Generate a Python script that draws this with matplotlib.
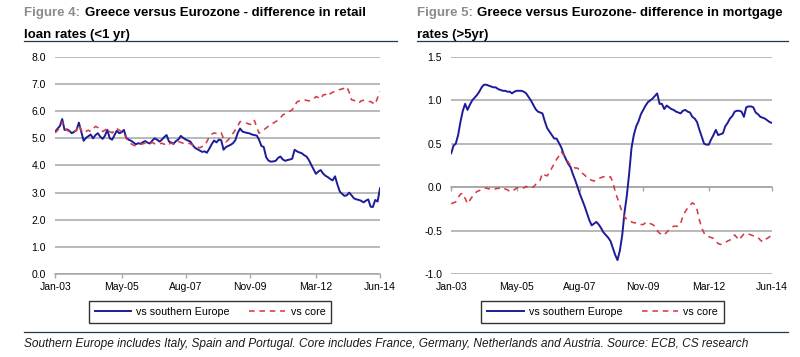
import pandas as pd
import matplotlib.pyplot as plt
import numpy as np

plt.rcParams['font.family'] = ['Liberation Sans', 'DejaVu Sans']

# monthly data, Jan-03 .. Jun-14
months = pd.date_range('2003-01-01', periods=138, freq='MS')

retail_south = [
    5.25, 5.36, 5.45, 5.71, 5.31, 5.33, 5.28, 5.19, 5.24, 5.30,
    5.58, 5.25, 4.91, 5.02, 5.08, 5.14, 5.00, 5.12, 5.19, 5.06,
    4.98, 5.10, 5.31, 5.00, 4.95, 5.12, 5.28, 5.19, 5.22, 5.31,
    5.02, 4.95, 4.91, 4.85, 4.78, 4.82, 4.80, 4.86, 4.90, 4.84,
    4.81, 4.92, 5.00, 4.95, 4.88, 4.95, 5.05, 5.12, 4.88, 4.84,
    4.81, 4.90, 4.96, 5.09, 5.02, 4.96, 4.92, 4.88, 4.75, 4.65,
    4.60, 4.55, 4.50, 4.52, 4.47, 4.62, 4.78, 4.92, 4.85, 4.95,
    4.93, 4.58, 4.68, 4.72, 4.76, 4.82, 4.93, 5.20, 5.36, 5.25,
    5.22, 5.20, 5.18, 5.14, 5.12, 5.10, 4.95, 4.72, 4.68, 4.30,
    4.18, 4.14, 4.15, 4.17, 4.28, 4.33, 4.22, 4.17, 4.20, 4.22,
    4.25, 4.58, 4.52, 4.48, 4.45, 4.38, 4.33, 4.20, 4.02, 3.85,
    3.69, 3.78, 3.83, 3.70, 3.62, 3.57, 3.50, 3.45, 3.60, 3.30,
    3.04, 2.95, 2.88, 2.90, 3.00, 2.90, 2.79, 2.75, 2.73, 2.70,
    2.64, 2.70, 2.75, 2.48, 2.47, 2.73, 2.67, 3.16]

retail_core = [
    5.20, 5.30, 5.40, 5.60, 5.35, 5.30, 5.25, 5.20, 5.25, 5.30,
    5.50, 5.30, 5.20, 5.25, 5.30, 5.25, 5.35, 5.44, 5.40, 5.30,
    5.25, 5.30, 5.38, 5.25, 5.20, 5.30, 5.37, 5.30, 5.25, 5.20,
    5.00, 4.90, 4.80, 4.75, 4.72, 4.75, 4.78, 4.80, 4.82, 4.80,
    4.81, 4.85, 4.80, 4.78, 4.80, 4.82, 4.78, 4.85, 4.80, 4.82,
    4.78, 4.85, 4.88, 4.85, 4.82, 4.80, 4.82, 4.80, 4.75, 4.70,
    4.68, 4.65, 4.70, 4.72, 4.88, 5.05, 5.15, 5.20, 5.18, 5.15,
    5.20, 5.00, 4.87, 4.95, 5.05, 5.18, 5.31, 5.45, 5.62, 5.60,
    5.58, 5.55, 5.52, 5.50, 5.66, 5.40, 5.19, 5.25, 5.31, 5.38,
    5.45, 5.50, 5.56, 5.62, 5.66, 5.75, 5.87, 5.90, 5.95, 6.00,
    6.05, 6.20, 6.34, 6.38, 6.40, 6.42, 6.40, 6.38, 6.40, 6.45,
    6.54, 6.50, 6.45, 6.60, 6.62, 6.55, 6.65, 6.70, 6.72, 6.76,
    6.80, 6.82, 6.85, 6.90, 6.70, 6.42, 6.40, 6.36, 6.30, 6.38,
    6.40, 6.38, 6.35, 6.36, 6.30, 6.25, 6.50, 6.73]

mortgage_south = [
    0.39, 0.48, 0.50, 0.60, 0.75, 0.88, 0.96, 0.89, 0.95, 1.00,
    1.03, 1.06, 1.10, 1.15, 1.18, 1.18, 1.17, 1.16, 1.15, 1.15,
    1.13, 1.12, 1.11, 1.11, 1.10, 1.10, 1.08, 1.10, 1.11, 1.11,
    1.11, 1.10, 1.08, 1.04, 1.00, 0.95, 0.90, 0.87, 0.86, 0.85,
    0.76, 0.68, 0.64, 0.60, 0.56, 0.56, 0.51, 0.46, 0.38, 0.32,
    0.27, 0.23, 0.15, 0.08, 0.00, -0.08, -0.15, -0.22, -0.30, -0.38,
    -0.44, -0.42, -0.40, -0.43, -0.47, -0.52, -0.55, -0.58, -0.62, -0.70,
    -0.78, -0.84, -0.73, -0.55, -0.30, -0.10, 0.15, 0.45, 0.60, 0.70,
    0.76, 0.84, 0.89, 0.94, 0.98, 1.00, 1.02, 1.05, 1.08, 0.96,
    0.96, 0.90, 0.94, 0.92, 0.90, 0.89, 0.87, 0.86, 0.85, 0.88,
    0.89, 0.87, 0.86, 0.81, 0.79, 0.75, 0.66, 0.58, 0.50, 0.49,
    0.49, 0.55, 0.60, 0.66, 0.60, 0.61, 0.62, 0.70, 0.74, 0.79,
    0.82, 0.87, 0.88, 0.88, 0.87, 0.81, 0.92, 0.93, 0.93, 0.92,
    0.86, 0.84, 0.81, 0.80, 0.79, 0.77, 0.75, 0.74]

mortgage_core = [
    -0.19, -0.18, -0.17, -0.12, -0.08, -0.07, -0.13, -0.19, -0.15, -0.11,
    -0.08, -0.05, -0.04, -0.02, -0.01, -0.01, -0.02, -0.01, -0.01, -0.02,
    -0.01, -0.02, -0.03, -0.02, -0.03, -0.05, -0.05, -0.03, -0.01, 0.00,
    0.00, -0.01, 0.01, -0.01, 0.00, 0.00, 0.03, 0.06, 0.08, 0.16,
    0.14, 0.13, 0.17, 0.22, 0.27, 0.32, 0.36, 0.41, 0.37, 0.33,
    0.29, 0.25, 0.24, 0.22, 0.22, 0.19, 0.16, 0.14, 0.11, 0.09,
    0.08, 0.07, 0.09, 0.10, 0.11, 0.12, 0.12, 0.11, 0.12, 0.06,
    -0.05, -0.13, -0.21, -0.29, -0.34, -0.37, -0.38, -0.40, -0.41, -0.41,
    -0.42, -0.43, -0.43, -0.41, -0.40, -0.42, -0.43, -0.45, -0.50, -0.53,
    -0.55, -0.55, -0.52, -0.49, -0.47, -0.45, -0.45, -0.45, -0.42, -0.33,
    -0.28, -0.24, -0.21, -0.18, -0.20, -0.26, -0.38, -0.47, -0.53, -0.56,
    -0.57, -0.58, -0.59, -0.62, -0.65, -0.66, -0.65, -0.64, -0.62, -0.61,
    -0.58, -0.55, -0.58, -0.61, -0.57, -0.54, -0.53, -0.54, -0.55, -0.56,
    -0.57, -0.58, -0.61, -0.63, -0.60, -0.59, -0.57, -0.56]

tick_dates = pd.to_datetime(['2003-01-01', '2005-05-01', '2007-08-01',
                             '2009-11-01', '2012-03-01', '2014-06-01'])
tick_labels = ['Jan-03', 'May-05', 'Aug-07', 'Nov-09', 'Mar-12', 'Jun-14']

blue = '#1c1c9a'
red = '#d63a44'
grid_c = '#a6a6a6'

fig = plt.figure(figsize=(8, 3.57), dpi=100, facecolor='w')


def draw_panel(ax, south, core, ylim, yticks, axis_at, leg_x):
    for yv in yticks:
        ax.axhline(yv, color=grid_c, lw=1.1, zorder=1)
    ax.plot(months, south, color=blue, lw=1.4, zorder=3, label='vs southern Europe')
    ax.plot(months, core, color=red, lw=1.15, ls=(0, (3.5, 3)), zorder=3, label='vs core')
    ax.set_xlim(months[0], months[-1])
    ax.set_ylim(*ylim)
    ax.set_yticks(yticks)
    ax.set_yticklabels(['%.1f' % v for v in yticks], fontsize=7.5)
    for s in ['top', 'right', 'left']:
        ax.spines[s].set_visible(False)
    # horizontal axis crosses at zero, labels stay at the bottom
    ax.spines['bottom'].set_position(('data', axis_at))
    ax.spines['bottom'].set_color(grid_c)
    ax.spines['bottom'].set_linewidth(1.1)
    ax.set_xticks(tick_dates)
    ax.tick_params(axis='x', colors=grid_c, length=3, width=1, labelbottom=False)
    ax.tick_params(axis='y', length=0, pad=6.5)
    sec = ax.secondary_xaxis('bottom')
    sec.set_xticks(tick_dates)
    sec.set_xticklabels(tick_labels, fontsize=7.5)
    sec.tick_params(length=0, pad=6)
    sec.spines['bottom'].set_visible(False)
    leg = ax.legend(loc='upper center', bbox_to_anchor=(leg_x, -0.125), ncol=2,
                    fontsize=7.7, frameon=True, fancybox=False, handlelength=3.4,
                    columnspacing=1.8, borderpad=0.55, handletextpad=0.5,
                    borderaxespad=0)
    leg.get_frame().set_edgecolor('black')
    leg.get_frame().set_linewidth(1.0)


ax1 = fig.add_axes([0.069, 0.2325, 0.406, 0.608])
draw_panel(ax1, retail_south, retail_core, (0, 8), np.arange(0, 8.5, 1.0), 0, 0.477)

ax2 = fig.add_axes([0.564, 0.2325, 0.401, 0.608])
draw_panel(ax2, mortgage_south, mortgage_core, (-1, 1.5), np.arange(-1.0, 1.75, 0.5), 0, 0.472)

# titles
fig.text(24 / 800, 1 - 13 / 357, 'Figure 4:', color='#8c8c8c', fontsize=9.5,
         fontweight='bold', va='center')
fig.text(85 / 800, 1 - 13 / 357, 'Greece versus Eurozone - difference in retail',
         color='black', fontsize=9.5, fontweight='bold', va='center')
fig.text(24 / 800, 1 - 35 / 357, 'loan rates (<1 yr)', color='black', fontsize=9.5,
         fontweight='bold', va='center')

fig.text(417 / 800, 1 - 13 / 357, 'Figure 5:', color='#8c8c8c', fontsize=9.5,
         fontweight='bold', va='center')
fig.text(477 / 800, 1 - 13 / 357, 'Greece versus Eurozone- difference in mortgage',
         color='black', fontsize=9.5, fontweight='bold', va='center')
fig.text(417 / 800, 1 - 35 / 357, 'rates (>5yr)', color='black', fontsize=9.5,
         fontweight='bold', va='center')

# rules under titles and above footnote
fig.add_artist(plt.Line2D([24 / 800, 397 / 800], [1 - 41 / 357] * 2, color='#1f3b4d', lw=0.9))
fig.add_artist(plt.Line2D([417 / 800, 788 / 800], [1 - 41 / 357] * 2, color='#1f3b4d', lw=0.9))
fig.add_artist(plt.Line2D([24 / 800, 788 / 800], [1 - 332 / 357] * 2, color='#1f3b4d', lw=0.9))

fig.text(24 / 800, 1 - 344 / 357,
         'Southern Europe includes Italy, Spain and Portugal. Core includes France, '
         'Germany, Netherlands and Austria. Source: ECB, CS research',
         fontsize=8.55, style='italic', va='center', color='#1a1a1a')

fig.savefig('out.png', dpi=100, facecolor='w')
